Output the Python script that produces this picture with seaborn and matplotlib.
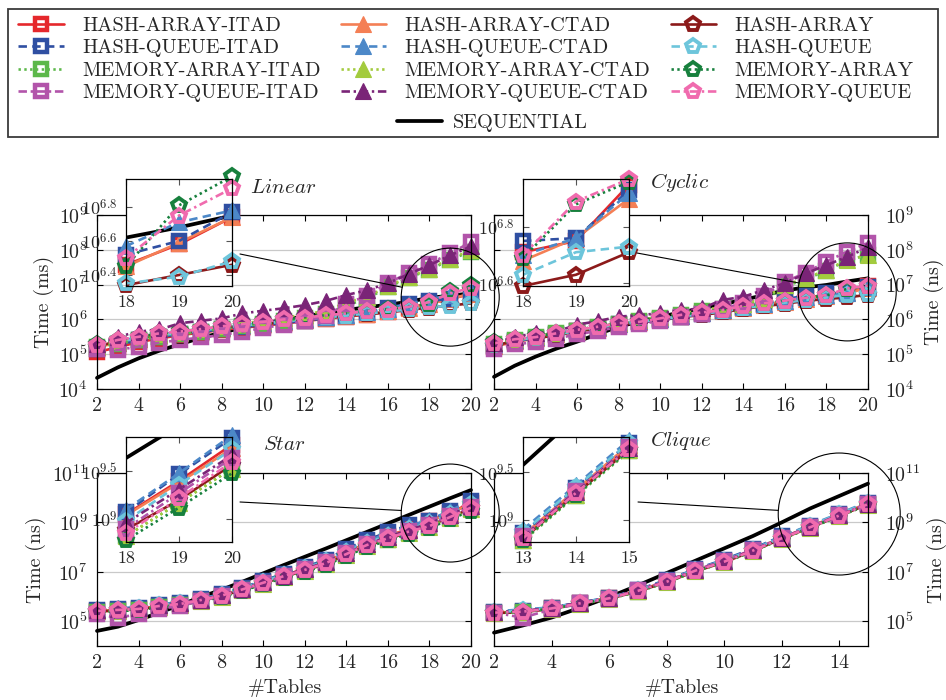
import numpy as np
import matplotlib
matplotlib.use("Agg")
import matplotlib.pyplot as plt
import seaborn as sns
from matplotlib.lines import Line2D
from matplotlib.patches import Ellipse, Rectangle
from matplotlib.ticker import FixedLocator, FixedFormatter, LogLocator, NullFormatter, NullLocator

# ---------------------------------------------------------------------------
# Measured running times, stored as log10(time) per number of joined tables
# ---------------------------------------------------------------------------
tables_20 = [2, 3, 4, 5, 6, 7, 8, 9, 10, 11, 12, 13, 14, 15, 16, 17, 18, 19, 20]
tables_15 = [2, 3, 4, 5, 6, 7, 8, 9, 10, 11, 12, 13, 14, 15]

# Linear queries (ms)
lin_ha_itad = [5.06, 5.20, 5.35, 5.45, 5.55, 5.62, 5.70, 5.76, 5.82, 5.88, 5.95, 6.02, 6.08, 6.14, 6.22, 6.33, 6.46, 6.58, 6.74]
lin_ha_ctad = [5.20, 5.33, 5.44, 5.54, 5.60, 5.67, 5.74, 5.80, 5.86, 5.92, 5.98, 6.04, 6.10, 6.16, 6.24, 6.34, 6.45, 6.59, 6.74]
lin_ha = [5.22, 5.38, 5.46, 5.56, 5.62, 5.68, 5.75, 5.82, 5.86, 5.93, 5.98, 6.05, 6.10, 6.15, 6.20, 6.27, 6.34, 6.40, 6.46]
lin_hq_itad = [5.15, 5.28, 5.40, 5.50, 5.57, 5.64, 5.72, 5.78, 5.84, 5.90, 5.96, 6.03, 6.10, 6.20, 6.34, 6.45, 6.52, 6.60, 6.77]
lin_hq_ctad = [5.25, 5.38, 5.48, 5.57, 5.63, 5.70, 5.78, 5.84, 5.90, 5.96, 6.02, 6.08, 6.14, 6.20, 6.30, 6.45, 6.57, 6.71, 6.78]
lin_hq = [5.24, 5.36, 5.45, 5.55, 5.60, 5.68, 5.76, 5.82, 5.88, 5.94, 6.00, 6.06, 6.11, 6.17, 6.22, 6.29, 6.35, 6.39, 6.48]
lin_ma_itad = [5.20, 5.30, 5.40, 5.50, 5.57, 5.65, 5.73, 5.80, 5.88, 5.96, 6.04, 6.15, 6.40, 6.60, 6.92, 7.20, 7.42, 7.72, 7.95]
lin_ma_ctad = [5.25, 5.38, 5.50, 5.58, 5.65, 5.72, 5.80, 5.88, 5.96, 6.05, 6.14, 6.25, 6.48, 6.65, 6.95, 7.22, 7.45, 7.75, 7.98]
lin_ma = [5.28, 5.42, 5.50, 5.60, 5.66, 5.72, 5.80, 5.86, 5.92, 6.00, 6.06, 6.12, 6.18, 6.24, 6.30, 6.36, 6.45, 6.81, 6.98]
lin_mq_itad = [5.15, 5.12, 5.22, 5.33, 5.41, 5.48, 5.55, 5.65, 5.75, 5.85, 5.95, 6.10, 6.45, 6.68, 7.05, 7.33, 7.60, 7.90, 8.22]
lin_mq_ctad = [5.30, 5.50, 5.65, 5.71, 5.89, 5.96, 6.03, 6.17, 6.25, 6.32, 6.41, 6.53, 6.70, 6.84, 7.04, 7.30, 7.56, 7.84, 8.10]
lin_mq = [5.26, 5.41, 5.50, 5.60, 5.65, 5.72, 5.80, 5.87, 5.93, 6.00, 6.05, 6.12, 6.17, 6.24, 6.28, 6.36, 6.50, 6.75, 6.91]
lin_seq = [4.32, 4.62, 4.88, 5.10, 5.29, 5.47, 5.62, 5.76, 5.88, 5.99, 6.09, 6.18, 6.27, 6.35, 6.42, 6.51, 6.62, 6.68, 6.75]

# Cyclic queries (ns)
cyc_ha_itad = [5.22, 5.36, 5.45, 5.56, 5.66, 5.75, 5.85, 5.92, 6.00, 6.08, 6.17, 6.25, 6.34, 6.42, 6.52, 6.62, 6.71, 6.75, 6.95]
cyc_ha_ctad = [5.24, 5.38, 5.47, 5.57, 5.67, 5.76, 5.86, 5.93, 6.01, 6.09, 6.17, 6.25, 6.34, 6.42, 6.50, 6.60, 6.68, 6.76, 6.90]
cyc_ha = [5.25, 5.38, 5.45, 5.55, 5.65, 5.74, 5.84, 5.90, 5.98, 6.06, 6.13, 6.20, 6.30, 6.38, 6.45, 6.53, 6.59, 6.63, 6.71]
cyc_hq_itad = [5.25, 5.38, 5.47, 5.57, 5.67, 5.76, 5.86, 5.92, 5.99, 6.07, 6.16, 6.25, 6.35, 6.45, 6.58, 6.68, 6.75, 6.76, 6.93]
cyc_hq_ctad = [5.28, 5.40, 5.50, 5.60, 5.70, 5.78, 5.88, 5.94, 6.02, 6.10, 6.18, 6.26, 6.36, 6.44, 6.54, 6.64, 6.70, 6.76, 6.92]
cyc_hq = [5.27, 5.40, 5.47, 5.57, 5.67, 5.76, 5.86, 5.92, 6.00, 6.08, 6.16, 6.23, 6.32, 6.40, 6.48, 6.56, 6.63, 6.71, 6.73]
cyc_ma_itad = [5.30, 5.42, 5.50, 5.60, 5.68, 5.78, 5.87, 5.95, 6.05, 6.14, 6.24, 6.30, 6.42, 6.55, 6.95, 7.15, 7.40, 7.70, 7.85]
cyc_ma_ctad = [5.32, 5.44, 5.52, 5.62, 5.70, 5.80, 5.90, 5.98, 6.08, 6.17, 6.27, 6.35, 6.45, 6.60, 6.99, 7.18, 7.42, 7.71, 7.85]
cyc_ma = [5.35, 5.44, 5.52, 5.60, 5.70, 5.80, 5.88, 5.95, 6.05, 6.13, 6.22, 6.28, 6.38, 6.46, 6.54, 6.62, 6.69, 6.88, 6.96]
cyc_mq_itad = [5.15, 5.28, 5.35, 5.45, 5.57, 5.67, 5.78, 5.86, 5.96, 6.06, 6.16, 6.30, 6.48, 6.68, 7.08, 7.34, 7.66, 7.95, 8.20]
cyc_mq_ctad = [5.32, 5.50, 5.60, 5.65, 5.85, 5.95, 6.08, 6.12, 6.18, 6.26, 6.32, 6.56, 6.65, 6.85, 7.04, 7.32, 7.56, 7.80, 8.07]
cyc_mq = [5.31, 5.43, 5.49, 5.60, 5.70, 5.79, 5.89, 5.93, 6.03, 6.13, 6.20, 6.27, 6.39, 6.46, 6.54, 6.62, 6.70, 6.89, 6.97]
cyc_seq = [4.35, 4.67, 4.93, 5.16, 5.36, 5.58, 5.79, 5.94, 6.08, 6.20, 6.32, 6.44, 6.56, 6.70, 6.83, 6.92, 6.99, 7.09, 7.18]

# Star queries (ns)
star_ha_itad = [5.40, 5.44, 5.50, 5.62, 5.71, 5.87, 6.05, 6.31, 6.58, 6.86, 7.12, 7.40, 7.80, 8.16, 8.45, 8.74, 9.05, 9.40, 9.78]
star_ha_ctad = [5.41, 5.45, 5.50, 5.63, 5.71, 5.87, 6.05, 6.30, 6.57, 6.85, 7.11, 7.39, 7.78, 8.14, 8.43, 8.72, 9.04, 9.38, 9.74]
star_ha = [5.40, 5.44, 5.48, 5.60, 5.68, 5.84, 6.02, 6.27, 6.54, 6.80, 7.05, 7.32, 7.70, 8.06, 8.33, 8.60, 8.89, 9.20, 9.57]
star_hq_itad = [5.45, 5.50, 5.55, 5.66, 5.76, 5.90, 6.10, 6.36, 6.64, 6.93, 7.20, 7.48, 7.92, 8.30, 8.60, 8.88, 9.07, 9.47, 9.85]
star_hq_ctad = [5.50, 5.53, 5.57, 5.68, 5.78, 5.92, 6.10, 6.36, 6.62, 6.90, 7.17, 7.45, 7.88, 8.25, 8.55, 8.85, 9.10, 9.48, 9.88]
star_hq = [5.43, 5.47, 5.52, 5.64, 5.72, 5.88, 6.06, 6.32, 6.60, 6.87, 7.14, 7.42, 7.82, 8.18, 8.47, 8.75, 8.98, 9.36, 9.73]
star_ma_itad = [5.38, 5.42, 5.46, 5.58, 5.66, 5.82, 6.00, 6.25, 6.52, 6.78, 7.03, 7.30, 7.67, 8.03, 8.30, 8.57, 8.82, 9.17, 9.53]
star_ma_ctad = [5.40, 5.43, 5.47, 5.59, 5.67, 5.83, 6.00, 6.26, 6.52, 6.79, 7.04, 7.31, 7.68, 8.04, 8.31, 8.58, 8.82, 9.17, 9.53]
star_ma = [5.38, 5.41, 5.45, 5.57, 5.65, 5.81, 5.98, 6.23, 6.50, 6.76, 7.00, 7.27, 7.64, 8.00, 8.27, 8.54, 8.78, 9.12, 9.48]
star_mq_itad = [5.30, 5.13, 5.30, 5.50, 5.62, 5.82, 6.02, 6.28, 6.55, 6.83, 7.10, 7.38, 7.76, 8.12, 8.40, 8.67, 8.90, 9.27, 9.64]
star_mq_ctad = [5.45, 5.48, 5.53, 5.65, 5.73, 5.88, 6.06, 6.31, 6.58, 6.85, 7.11, 7.38, 7.76, 8.12, 8.41, 8.69, 8.96, 9.31, 9.67]
star_mq = [5.42, 5.46, 5.50, 5.62, 5.70, 5.86, 6.04, 6.29, 6.56, 6.83, 7.08, 7.35, 7.72, 8.09, 8.36, 8.63, 8.85, 9.22, 9.60]
star_seq = [4.61, 4.78, 5.05, 5.35, 5.66, 5.98, 6.28, 6.60, 6.94, 7.28, 7.61, 7.94, 8.28, 8.62, 8.96, 9.30, 9.64, 9.98, 10.31]

# Clique queries (ns)
clq_ha_itad = [5.34, 5.38, 5.52, 5.73, 5.93, 6.24, 6.60, 7.05, 7.42, 7.87, 8.37, 8.82, 9.29, 9.76]
clq_ha_ctad = [5.35, 5.40, 5.53, 5.74, 5.94, 6.24, 6.61, 7.06, 7.43, 7.88, 8.38, 8.84, 9.31, 9.78]
clq_ha = [5.33, 5.37, 5.50, 5.71, 5.91, 6.21, 6.58, 7.02, 7.39, 7.84, 8.34, 8.80, 9.27, 9.73]
clq_hq_itad = [5.38, 5.42, 5.55, 5.76, 5.95, 6.27, 6.68, 7.10, 7.50, 7.94, 8.44, 8.86, 9.33, 9.80]
clq_hq_ctad = [5.40, 5.48, 5.56, 5.76, 5.96, 6.27, 6.65, 7.10, 7.47, 7.92, 8.43, 8.90, 9.36, 9.83]
clq_hq = [5.37, 5.44, 5.54, 5.75, 5.95, 6.25, 6.63, 7.08, 7.45, 7.90, 8.40, 8.87, 9.34, 9.80]
clq_ma_itad = [5.33, 5.37, 5.50, 5.70, 5.90, 6.20, 6.57, 7.02, 7.38, 7.83, 8.33, 8.78, 9.25, 9.71]
clq_ma_ctad = [5.33, 5.38, 5.50, 5.71, 5.90, 6.21, 6.58, 7.02, 7.39, 7.84, 8.33, 8.79, 9.26, 9.72]
clq_ma = [5.34, 5.38, 5.51, 5.71, 5.91, 6.21, 6.58, 7.03, 7.39, 7.84, 8.34, 8.79, 9.26, 9.72]
clq_mq_itad = [5.35, 5.15, 5.48, 5.72, 5.92, 6.26, 6.62, 7.08, 7.45, 7.90, 8.38, 8.83, 9.30, 9.76]
clq_mq_ctad = [5.38, 5.42, 5.55, 5.76, 5.94, 6.25, 6.62, 7.06, 7.43, 7.88, 8.37, 8.82, 9.29, 9.75]
clq_mq = [5.35, 5.39, 5.52, 5.73, 5.93, 6.23, 6.60, 7.05, 7.41, 7.86, 8.36, 8.81, 9.28, 9.74]
clq_seq = [4.54, 4.83, 5.15, 5.55, 5.98, 6.45, 6.95, 7.45, 7.95, 8.45, 9.00, 9.57, 10.07, 10.57]

# ---------------------------------------------------------------------------
# Series appearance (drawing order; later series are drawn on top)
# ---------------------------------------------------------------------------
SERIES_STYLE = {
    "HASH-ARRAY-ITAD": ("#E5282C", "s", "solid"),
    "HASH-ARRAY-CTAD": ("#F47F55", "^", "solid"),
    "HASH-ARRAY": ("#8C1A1A", "p", "solid"),
    "HASH-QUEUE-ITAD": ("#2F4FA2", "s", "dashed"),
    "HASH-QUEUE-CTAD": ("#4C88C8", "^", "dashed"),
    "HASH-QUEUE": ("#6DC5DB", "p", "dashed"),
    "MEMORY-ARRAY-ITAD": ("#5CB84A", "s", "dotted"),
    "MEMORY-ARRAY-CTAD": ("#A3CB3E", "^", "dotted"),
    "MEMORY-ARRAY": ("#17803D", "p", "dotted"),
    "MEMORY-QUEUE-ITAD": ("#B254AA", "s", "dashdot"),
    "MEMORY-QUEUE-CTAD": ("#7A2477", "^", "dashdot"),
    "MEMORY-QUEUE": ("#F06BAE", "p", "dashdot"),
}
LINE_STYLES = {
    "solid": "-",
    "dashed": (0, (3.2, 2.0)),
    "dotted": (0, (0.9, 1.3)),
    "dashdot": (0, (3.2, 1.4, 0.9, 1.4)),
}
LW = 1.9
SEQ_LW = 2.7


def marker_kw(color, marker):
    if marker == "s":
        return dict(marker="s", markersize=8.3, markerfacecolor="none",
                    markeredgecolor=color, markeredgewidth=3.2)
    if marker == "p":
        return dict(marker="p", markersize=10.6, markerfacecolor="none",
                    markeredgecolor=color, markeredgewidth=2.8)
    return dict(marker="^", markersize=11, markerfacecolor=color,
                markeredgecolor=color, markeredgewidth=0.8)


linear_table = {
    "HASH-ARRAY-ITAD": lin_ha_itad, "HASH-ARRAY-CTAD": lin_ha_ctad, "HASH-ARRAY": lin_ha,
    "HASH-QUEUE-ITAD": lin_hq_itad, "HASH-QUEUE-CTAD": lin_hq_ctad, "HASH-QUEUE": lin_hq,
    "MEMORY-ARRAY-ITAD": lin_ma_itad, "MEMORY-ARRAY-CTAD": lin_ma_ctad, "MEMORY-ARRAY": lin_ma,
    "MEMORY-QUEUE-ITAD": lin_mq_itad, "MEMORY-QUEUE-CTAD": lin_mq_ctad, "MEMORY-QUEUE": lin_mq,
}
cyclic_table = {
    "HASH-ARRAY-ITAD": cyc_ha_itad, "HASH-ARRAY-CTAD": cyc_ha_ctad, "HASH-ARRAY": cyc_ha,
    "HASH-QUEUE-ITAD": cyc_hq_itad, "HASH-QUEUE-CTAD": cyc_hq_ctad, "HASH-QUEUE": cyc_hq,
    "MEMORY-ARRAY-ITAD": cyc_ma_itad, "MEMORY-ARRAY-CTAD": cyc_ma_ctad, "MEMORY-ARRAY": cyc_ma,
    "MEMORY-QUEUE-ITAD": cyc_mq_itad, "MEMORY-QUEUE-CTAD": cyc_mq_ctad, "MEMORY-QUEUE": cyc_mq,
}
star_table = {
    "HASH-ARRAY-ITAD": star_ha_itad, "HASH-ARRAY-CTAD": star_ha_ctad, "HASH-ARRAY": star_ha,
    "HASH-QUEUE-ITAD": star_hq_itad, "HASH-QUEUE-CTAD": star_hq_ctad, "HASH-QUEUE": star_hq,
    "MEMORY-ARRAY-ITAD": star_ma_itad, "MEMORY-ARRAY-CTAD": star_ma_ctad, "MEMORY-ARRAY": star_ma,
    "MEMORY-QUEUE-ITAD": star_mq_itad, "MEMORY-QUEUE-CTAD": star_mq_ctad, "MEMORY-QUEUE": star_mq,
}
clique_table = {
    "HASH-ARRAY-ITAD": clq_ha_itad, "HASH-ARRAY-CTAD": clq_ha_ctad, "HASH-ARRAY": clq_ha,
    "HASH-QUEUE-ITAD": clq_hq_itad, "HASH-QUEUE-CTAD": clq_hq_ctad, "HASH-QUEUE": clq_hq,
    "MEMORY-ARRAY-ITAD": clq_ma_itad, "MEMORY-ARRAY-CTAD": clq_ma_ctad, "MEMORY-ARRAY": clq_ma,
    "MEMORY-QUEUE-ITAD": clq_mq_itad, "MEMORY-QUEUE-CTAD": clq_mq_ctad, "MEMORY-QUEUE": clq_mq,
}

# ---------------------------------------------------------------------------
# Figure setup
# ---------------------------------------------------------------------------
sns.set_style("white")
plt.rcParams.update({
    "font.family": ["cmr10", "DejaVu Serif"],
    "mathtext.fontset": "cm",
    "axes.formatter.use_mathtext": True,
    "axes.unicode_minus": False,
})

W, H = 946, 700
FS = 14.4
FS_LEG = 14.6
FS_IN = 13.0
fig = plt.figure(figsize=(W / 100, H / 100), dpi=100)


def rect(l, t, r, b):
    return [l / W, 1 - b / H, (r - l) / W, (b - t) / H]


def px(xp, yp):
    return xp / W, 1 - yp / H


def draw_series(ax, x, table, seq, xr=None, yr=None):
    xs = np.asarray(x, dtype=float)
    sel = np.ones(len(xs), bool) if xr is None else (xs >= xr[0]) & (xs <= xr[1])
    inset = xr is not None
    sns.lineplot(x=xs[sel], y=np.power(10.0, np.asarray(seq)[sel]), ax=ax,
                 color="black", linewidth=SEQ_LW, estimator=None, errorbar=None,
                 sort=False, legend=False, clip_on=inset)
    for name, (color, marker, ls) in SERIES_STYLE.items():
        ex = np.asarray(table[name], dtype=float)[sel]
        xv = xs[sel]
        if not inset:
            sns.lineplot(x=xv, y=np.power(10.0, ex), ax=ax, color=color,
                         linewidth=LW, linestyle=LINE_STYLES[ls], estimator=None,
                         errorbar=None, sort=False, legend=False, clip_on=False,
                         **marker_kw(color, marker))
        else:
            sns.lineplot(x=xv, y=np.power(10.0, ex), ax=ax, color=color,
                         linewidth=LW, linestyle=LINE_STYLES[ls], estimator=None,
                         errorbar=None, sort=False, legend=False)
            keep = (ex >= yr[0] - 0.03) & (ex <= yr[1] + 0.03)
            if keep.any():
                sns.lineplot(x=xv[keep], y=np.power(10.0, ex[keep]), ax=ax,
                             color=color, linestyle="", estimator=None,
                             errorbar=None, sort=False, legend=False,
                             clip_on=False, **marker_kw(color, marker))


PANELS = [
    dict(title="Linear", x=tables_20, table=linear_table, seq=lin_seq,
         box=(97, 215, 471, 389), ylim=(4, 9), yticks=[4, 5, 6, 7, 8, 9], minor=True,
         side="left", ylabel="Time (ms)", ylabel_px=44, xticks=list(range(2, 21, 2)),
         xlim=(2, 20), title_px=(250, 187), xlabel=None,
         inset=dict(box=(126, 179, 232, 286), xlim=(18, 20), ylim=(6.335, 6.965),
                    yticks=[6.4, 6.6, 6.8], xticks=[18, 19, 20]),
         spy=dict(center=(19, 6.64), r=49, start=(240, 254))),
    dict(title="Cyclic", x=tables_20, table=cyclic_table, seq=cyc_seq,
         box=(494, 215, 868, 389), ylim=(4, 9), yticks=[4, 5, 6, 7, 8, 9], minor=True,
         side="right", ylabel="Time (ns)", ylabel_px=934, xticks=list(range(2, 21, 2)),
         xlim=(2, 20), title_px=(650, 183), xlabel=None,
         inset=dict(box=(523, 179, 629, 286), xlim=(18, 20), ylim=(6.59, 6.97),
                    yticks=[6.6, 6.8], xticks=[18, 19, 20]),
         spy=dict(center=(19, 6.79), r=49, start=(637, 253))),
    dict(title="Star", x=tables_20, table=star_table, seq=star_seq,
         box=(97, 473, 471, 646), ylim=(4, 11), yticks=[5, 7, 9, 11], minor=False,
         side="left", ylabel="Time (ns)", ylabel_px=36, xticks=list(range(2, 21, 2)),
         xlim=(2, 20), title_px=(263, 444), xlabel="#Tables",
         inset=dict(box=(126, 437, 232, 542), xlim=(18, 20), ylim=(8.76, 9.86),
                    yticks=[9, 9.5], xticks=[18, 19, 20]),
         spy=dict(center=(19, 9.38), r=49, start=(240, 502))),
    dict(title="Clique", x=tables_15, table=clique_table, seq=clq_seq,
         box=(494, 473, 868, 646), ylim=(4, 11), yticks=[5, 7, 9, 11], minor=False,
         side="right", ylabel="Time (ns)", ylabel_px=937, xticks=list(range(2, 15, 2)),
         xlim=(2, 15), title_px=(650, 440), xlabel="#Tables",
         inset=dict(box=(523, 437, 629, 542), xlim=(13, 15), ylim=(8.77, 9.86),
                    yticks=[9, 9.5], xticks=[13, 14, 15]),
         spy=dict(center=(14, 9.34), r=61, start=(638, 502))),
]


def exp_label(e):
    return r"$10^{%s}$" % (("%g" % e))


for p in PANELS:
    l, t, r, b = p["box"]
    ax = fig.add_axes(rect(l, t, r, b))
    ax.set_yscale("log")
    draw_series(ax, p["x"], p["table"], p["seq"])
    ax.set_xlim(*p["xlim"])
    ax.set_ylim(10.0 ** p["ylim"][0], 10.0 ** p["ylim"][1])
    ax.set_xticks(p["xticks"])
    ax.set_xticklabels([str(v) for v in p["xticks"]])
    ax.yaxis.set_major_locator(FixedLocator([10.0 ** e for e in p["yticks"]]))
    ax.yaxis.set_major_formatter(FixedFormatter([exp_label(e) for e in p["yticks"]]))
    if p["minor"]:
        ax.yaxis.set_minor_locator(LogLocator(base=10, subs=np.arange(2, 10)))
    else:
        ax.yaxis.set_minor_locator(NullLocator())
    ax.yaxis.set_minor_formatter(NullFormatter())
    ax.xaxis.set_minor_locator(NullLocator())
    right = p["side"] == "right"
    ax.tick_params(axis="both", which="major", direction="in", length=4.5, width=0.8,
                   top=True, bottom=True, left=True, right=True, labelsize=FS,
                   color="black")
    ax.tick_params(axis="x", which="major", pad=6)
    ax.tick_params(axis="y", which="major", labelleft=not right, labelright=right,
                   pad=12 if right else 6.5)
    ax.tick_params(axis="y", which="minor", direction="in", length=3, width=0.6,
                   left=True, right=True, color="#8a8a8a")
    ax.set_axisbelow(True)
    ax.grid(False)
    ax.yaxis.grid(True, which="major", color="#c9c9c9", linewidth=0.9)
    for s in ax.spines.values():
        s.set_color("black")
        s.set_linewidth(0.9)
    ax.set_xlabel("")
    ax.set_ylabel(p["ylabel"], fontsize=FS)
    if right:
        ax.yaxis.set_label_position("right")
    ax.yaxis.set_label_coords((p["ylabel_px"] - l) / (r - l), 0.5)
    ax.yaxis.label.set(ha="center", va="center", rotation=90)
    if p["xlabel"]:
        ax.set_xlabel(p["xlabel"], fontsize=FS)
        ax.xaxis.set_label_coords(0.503, (b - 688) / (b - t))
        ax.xaxis.label.set(ha="center", va="center")

    # title in math italic beside the inset
    tx, ty = px(*p["title_px"])
    fig.text(tx, ty, r"$%s$" % p["title"], fontsize=FS + 0.8, ha="left", va="center")

    # magnified view of the last points
    ins = p["inset"]
    il, it, ir, ib = ins["box"]
    iax = fig.add_axes(rect(il, it, ir, ib))
    iax.set_yscale("log")
    iax.set_facecolor("white")
    draw_series(iax, p["x"], p["table"], p["seq"], xr=ins["xlim"], yr=ins["ylim"])
    iax.set_xlim(*ins["xlim"])
    iax.set_ylim(10.0 ** ins["ylim"][0], 10.0 ** ins["ylim"][1])
    iax.set_xticks(ins["xticks"])
    iax.set_xticklabels([str(v) for v in ins["xticks"]])
    iax.yaxis.set_major_locator(FixedLocator([10.0 ** e for e in ins["yticks"]]))
    iax.yaxis.set_major_formatter(FixedFormatter([exp_label(e) for e in ins["yticks"]]))
    iax.yaxis.set_minor_locator(NullLocator())
    iax.yaxis.set_minor_formatter(NullFormatter())
    iax.xaxis.set_minor_locator(NullLocator())
    iax.tick_params(axis="both", which="major", direction="in", length=4.5, width=0.8,
                    top=True, bottom=True, left=True, right=True, labelsize=FS_IN,
                    pad=6, color="#555555")
    iax.grid(False)
    iax.set_xlabel("")
    iax.set_ylabel("")
    for s in iax.spines.values():
        s.set_color("black")
        s.set_linewidth(0.9)

    # circle marking the magnified region and its connector
    sp = p["spy"]
    cx, cy = ax.transData.transform((sp["center"][0], 10.0 ** sp["center"][1]))
    cy_top = H - cy
    rr = sp["r"]
    fig.add_artist(Ellipse((cx / W, cy / H), 2 * rr / W, 2 * rr / H,
                           transform=fig.transFigure, fill=False,
                           edgecolor="black", linewidth=0.8))
    sx, sy = sp["start"]
    dx, dy = cx - sx, cy_top - sy
    dist = np.hypot(dx, dy)
    ex_, ey_ = cx - rr * dx / dist, cy_top - rr * dy / dist
    x0, y0 = px(sx, sy)
    x1, y1 = px(ex_, ey_)
    fig.add_artist(Line2D([x0, x1], [y0, y1], transform=fig.transFigure,
                          color="black", linewidth=0.8))

# ---------------------------------------------------------------------------
# Legend
# ---------------------------------------------------------------------------
legend_order = [
    "HASH-ARRAY-ITAD", "HASH-QUEUE-ITAD", "MEMORY-ARRAY-ITAD", "MEMORY-QUEUE-ITAD",
    "HASH-ARRAY-CTAD", "HASH-QUEUE-CTAD", "MEMORY-ARRAY-CTAD", "MEMORY-QUEUE-CTAD",
    "HASH-ARRAY", "HASH-QUEUE", "MEMORY-ARRAY", "MEMORY-QUEUE",
]
handles = []
for name in legend_order:
    color, marker, ls = SERIES_STYLE[name]
    handles.append(Line2D([], [], color=color, linewidth=LW, linestyle=LINE_STYLES[ls],
                          label=name, **marker_kw(color, marker)))
fig.legend(handles=handles, loc="upper left", bbox_to_anchor=px(18, 17), ncol=3,
           frameon=False, fontsize=FS_LEG, handlelength=2.25, handletextpad=0.9,
           columnspacing=1.0, labelspacing=0.2, borderpad=0, borderaxespad=0)
seq_handle = Line2D([], [], color="black", linewidth=SEQ_LW, label="SEQUENTIAL")
fig.legend(handles=[seq_handle], loc="center", bbox_to_anchor=px(492, 123),
           frameon=False, fontsize=FS_LEG, handlelength=2.25, handletextpad=0.5,
           borderpad=0, borderaxespad=0)
lx, ly = px(8, 137)
fig.add_artist(Rectangle((lx, ly), 930 / W, 128 / H, transform=fig.transFigure,
                         fill=False, edgecolor="#3a3a3a", linewidth=1.3))

fig.savefig("out.png", dpi=100)
